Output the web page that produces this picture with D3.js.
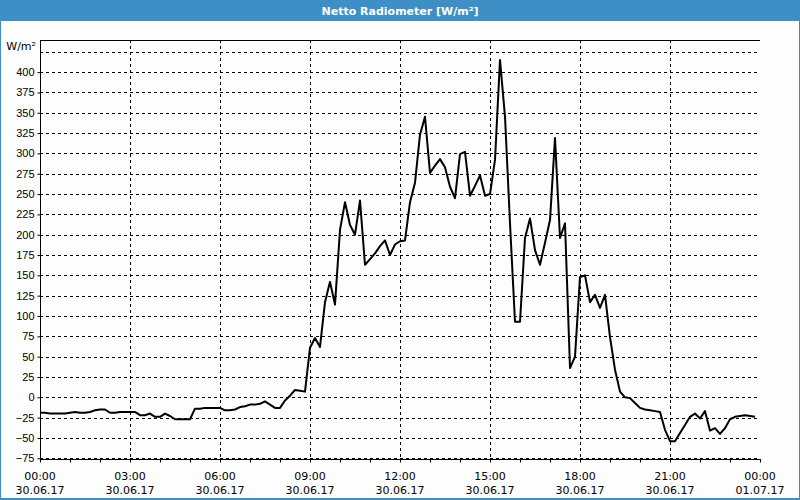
<!DOCTYPE html>
<html><head><meta charset="utf-8">
<script src="https://cdn.jsdelivr.net/npm/d3@7"></script>
<style>body{margin:0;background:#fff}svg{display:block}</style>
</head><body>
<script>
const title = "Netto Radiometer [W/m²]";
const unitLabel = "W/m²";
const startTime = "2017-06-30T00:00";
const stepMinutes = 10;
const values = [
-19,-19,-20,-20,-20,-20,-19,-18,-19,-19,-18,-16,-15,-15,-19,-19,-18,-18,-18,-18,
-22,-22,-20,-24,-24,-20,-23,-27,-27,-27,-27,-14,-14,-13,-13,-13,-13,-16,-16,-15,
-12,-11,-9,-9,-8,-5,-9,-13,-13,-4,2,9,8,7,61,73,62,117,142,114,
206,240,212,200,242,163,170,177,186,193,175,188,192,193,240,264,323,345,276,285,
293,283,259,245,299,302,248,260,273,248,250,292,415,345,214,93,93,196,220,181,
163,190,218,319,196,214,36,50,148,150,117,126,110,126,74,34,7,0,-1,-7,
-13,-15,-16,-17,-18,-40,-54,-54,-44,-34,-24,-20,-26,-17,-41,-38,-45,-38,-27,-24,
-23,-22,-23,-24];
const yTicks = [-75,-50,-25,0,25,50,75,100,125,150,175,200,225,250,275,300,325,350,375,400];
const yGrid = [-75,-50,-25,0,25,50,75,100,125,150,175,200,225,250,275,300,325,350,375,400,425];
const xTickLabels = [
 ["00:00","30.06.17"],["03:00","30.06.17"],["06:00","30.06.17"],["09:00","30.06.17"],
 ["12:00","30.06.17"],["15:00","30.06.17"],["18:00","30.06.17"],["21:00","30.06.17"],["00:00","01.07.17"]];

const W = 800, H = 500;
const L = 40, R = 760, T = 40, B = 459.5;
const parse = d3.timeParse("%Y-%m-%dT%H:%M");
const t0 = parse(startTime);
const t1 = d3.timeHour.offset(t0, 24);
const data = values.map((v, i) => ({t: d3.timeMinute.offset(t0, i * stepMinutes), v}));

const x = d3.scaleTime().domain([t0, t1]).range([L, R]);
const y = d3.scaleLinear().domain([-76.5, 439.5]).range([B, T]);

const svg = d3.select("body").append("svg").attr("width", W).attr("height", H)
  .style("font-family", "Tahoma, 'DejaVu Sans', sans-serif");

svg.append("rect").attr("width", W).attr("height", H).attr("fill", "#3d8fc6");
svg.append("rect").attr("x", 1).attr("y", 21).attr("width", W - 2).attr("height", H - 23).attr("fill", "#fcfdfc");
svg.append("text").attr("x", W / 2).attr("y", 14.5).attr("text-anchor", "middle")
  .attr("fill", "#fff").attr("font-size", 11).attr("font-weight", "bold").text(title);

// grid
const g = svg.append("g");
g.selectAll(".hg").data(yGrid).join("line")
  .attr("x1", L).attr("x2", R)
  .attr("y1", d => Math.round(y(d)) + 0.5).attr("y2", d => Math.round(y(d)) + 0.5)
  .attr("stroke", "#000").attr("stroke-dasharray", "3,3").attr("shape-rendering", "crispEdges");
const vTimes = d3.range(1, 8).map(h => d3.timeHour.offset(t0, h * 3));
g.selectAll(".vg").data(vTimes).join("line")
  .attr("y1", T).attr("y2", B)
  .attr("x1", d => Math.round(x(d)) + 0.5).attr("x2", d => Math.round(x(d)) + 0.5)
  .attr("stroke", "#000").attr("stroke-dasharray", "3,3").attr("shape-rendering", "crispEdges");

// axes
const yAxis = d3.axisLeft(y).tickValues(yTicks).tickSize(3).tickPadding(3).tickFormat(d3.format("d"));
const ya = svg.append("g").attr("transform", `translate(${L + 0.5},0)`).call(yAxis);
ya.select(".domain").remove();
ya.selectAll("text").attr("font-size", 11).attr("fill", "#000");
ya.selectAll("line").attr("stroke", "#000");

const hours = d3.range(0, 25).map(h => d3.timeHour.offset(t0, h));
const xAxis = d3.axisBottom(x).tickValues(hours).tickSize(3).tickFormat("");
const xa = svg.append("g").attr("transform", `translate(0,${B})`).call(xAxis);
xa.select(".domain").remove();
xa.selectAll("line").attr("stroke", "#000");

const majors = d3.range(0, 9).map(i => d3.timeHour.offset(t0, i * 3));
const xl = svg.append("g").selectAll("text").data(majors).join("text")
  .attr("x", d => x(d)).attr("text-anchor", "middle").attr("font-size", 11).attr("fill", "#000");
xl.append("tspan").attr("x", d => x(d)).attr("y", 480).text((d, i) => xTickLabels[i][0]);
xl.append("tspan").attr("x", d => x(d)).attr("y", 494).text((d, i) => xTickLabels[i][1]);

svg.append("line").attr("x1", L + 0.5).attr("x2", L + 0.5).attr("y1", T).attr("y2", B).attr("stroke", "#000");
svg.append("line").attr("x1", L).attr("x2", R + 1).attr("y1", B).attr("y2", B).attr("stroke", "#000");
svg.append("line").attr("x1", L).attr("x2", R).attr("y1", T + 0.5).attr("y2", T + 0.5).attr("stroke", "#000");

svg.append("text").attr("x", 36).attr("y", 50).attr("text-anchor", "end")
  .attr("font-size", 11).attr("fill", "#000").text(unitLabel);

// line
const line = d3.line().x(d => x(d.t)).y(d => y(d.v));
svg.append("path").datum(data).attr("d", line).attr("fill", "none")
  .attr("stroke", "#000").attr("stroke-width", 2).attr("stroke-linejoin", "round");
</script>
</body></html>
